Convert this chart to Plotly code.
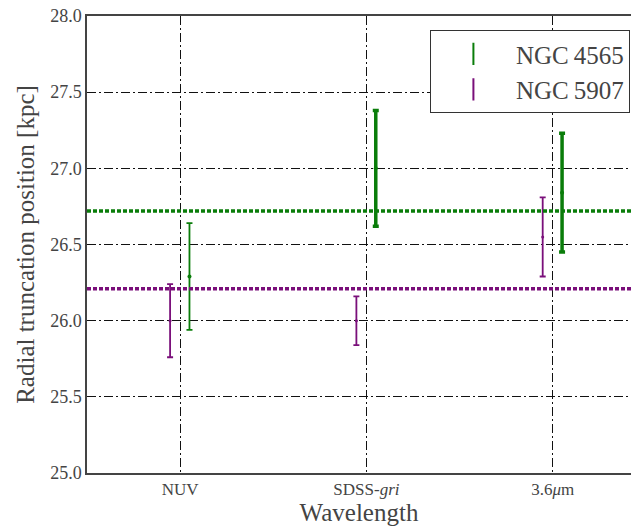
import plotly.graph_objects as go

# Wavelength bands (category index on the x axis)
bands = ["NUV", "SDSS-<i>gri</i>", "3.6<i>μ</i>m"]
band_pos = [0, 1, 2]

# Truncation radius [kpc] and symmetric uncertainties per band
ngc4565_r = [26.29, 27.00, 26.84]
ngc4565_err = [0.35, 0.38, 0.39]
ngc5907_r = [26.00, 26.00, 26.55]
ngc5907_err = [0.24, 0.16, 0.26]

# Mean truncation radius of each galaxy
ngc4565_mean = 26.72
ngc5907_mean = 26.21

GREEN = "#0a7d0a"
PURPLE = "#7a0f7a"
FONT = "Liberation Serif"

fig = go.Figure()

# per-point error bar line widths
green_thick = [1.8, 3.5, 3.5]
purple_thick = [1.8, 1.8, 1.8]

for i, x in enumerate(band_pos):
    fig.add_trace(go.Scatter(
        x=[x + 0.05], y=[ngc4565_r[i]], mode="markers",
        marker=dict(color=GREEN, size=4),
        error_y=dict(type="data", array=[ngc4565_err[i]], color=GREEN,
                     thickness=green_thick[i], width=3),
        showlegend=False, hoverinfo="skip"))
    fig.add_trace(go.Scatter(
        x=[x - 0.054], y=[ngc5907_r[i]], mode="markers",
        marker=dict(color=PURPLE, size=3),
        error_y=dict(type="data", array=[ngc5907_err[i]], color=PURPLE,
                     thickness=purple_thick[i], width=3),
        showlegend=False, hoverinfo="skip"))

# legend entries
fig.add_trace(go.Scatter(x=[None], y=[None], mode="markers", name="NGC\u20094565",
                         marker=dict(symbol="line-ns-open", size=22, color=GREEN,
                                     line=dict(width=2, color=GREEN))))
fig.add_trace(go.Scatter(x=[None], y=[None], mode="markers", name="NGC\u20095907",
                         marker=dict(symbol="line-ns-open", size=22, color=PURPLE,
                                     line=dict(width=2, color=PURPLE))))

# mean levels as thick dotted lines
for val, col in [(ngc4565_mean, GREEN), (ngc5907_mean, PURPLE)]:
    fig.add_shape(type="line", xref="paper", yref="y", x0=0, x1=1, y0=val, y1=val,
                  line=dict(color=col, width=3.5, dash="4px,2px"), layer="above")

fig.update_layout(
    width=631, height=526,
    margin=dict(l=87, r=0, t=16, b=53),
    paper_bgcolor="white", plot_bgcolor="white",
    font=dict(family=FONT, color="#333333", size=16),
    legend=dict(x=0.998, xanchor="right", y=0.969, yanchor="top",
                bordercolor="#333333", borderwidth=1, bgcolor="white",
                font=dict(size=25, family=FONT, color="#444444"),
                itemwidth=75, tracegroupgap=0),
)

fig.update_xaxes(
    range=[-0.5, 2.42], tickmode="array", tickvals=band_pos, ticktext=bands,
    showgrid=True, gridcolor="#111111", gridwidth=1, griddash="9px,3px,2px,3px",
    showline=True, linecolor="#444444", linewidth=1.5, mirror=True,
    ticks="", zeroline=False, tickfont=dict(size=17, family=FONT, color="#444444"),
    title=dict(text="Wavelength", font=dict(size=25, family=FONT, color="#444444"),
               standoff=0),
)
fig.update_yaxes(
    range=[25.0, 28.0], tickmode="array",
    tickvals=[25.0, 25.5, 26.0, 26.5, 27.0, 27.5, 28.0],
    ticktext=["25.0", "25.5", "26.0", "26.5", "27.0", "27.5", "28.0"],
    showgrid=True, gridcolor="#111111", gridwidth=1, griddash="9px,3px,2px,3px",
    showline=True, linecolor="#444444", linewidth=1.5, mirror=False,
    ticks="", zeroline=False, tickfont=dict(size=18, family=FONT, color="#444444"),
    title=dict(text="Radial truncation position [kpc]",
               font=dict(size=25, family=FONT, color="#444444"), standoff=8),
)

fig.write_html("out.html")
